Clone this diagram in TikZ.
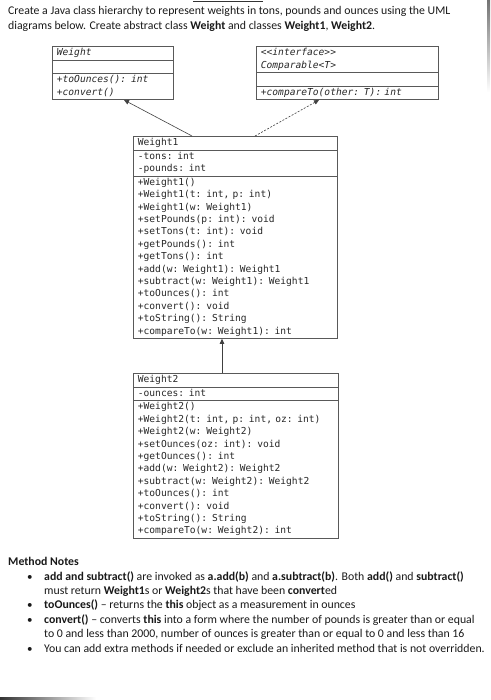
\documentclass[tikz,border=0pt]{standalone}
\usepackage{fontspec}
\setmainfont{Carlito}
\newfontfamily\umlmono{DejaVu Sans Mono}
\usetikzlibrary{positioning,arrows.meta,calc,shapes.multipart}

\begin{document}
\begin{tikzpicture}[x=1pt, y=-1pt,
        cls/.style={rectangle split, rectangle split parts=3, draw=black!65, line width=0.8pt,
            anchor=north west, align=left, inner xsep=4.5pt, inner ysep=0.2pt, text=black!85,
            font=\umlmono\fontsize{9.6}{12.4}\selectfont,
            execute at begin node=\strut, execute at end node=\strut},
        gen/.style={draw=black!75, line width=0.6pt, -{Triangle[length=5pt,width=4.5pt]}},
        real/.style={gen, dash pattern=on 2pt off 1.5pt},
        txt/.style={anchor=base west, inner sep=0pt, text=black!90, font=\fontsize{11.8}{14}\selectfont},
        bul/.style={txt, font=\fontsize{11}{14}\selectfont}
    ]
    \useasboundingbox (0,0) rectangle (490,700);

    %% ---- scan edges ----
    \draw[black!80, line width=0.8pt] (193,1.5) -- (263,1.5);
    \fill[top color=black!55, bottom color=white] (487,0) rectangle (490,92);
    \fill[left color=black!80, right color=white] (0,697.5) rectangle (96,700);

    %% ---- task text ----
    \node[txt] (t1) at (8,15) {Create a Java class hierarchy to represent weights in tons, pounds and ounces using the UML};
    \node[txt] (t2) at (8,30) {diagrams below. Create abstract class \textbf{Weight} and classes \textbf{Weight1}, \textbf{Weight2}.};

    %% ---- abstract class and interface ----
    \node[cls, text width=112pt] (wt) at (52,46)
        {\textit{Weight}
         \nodepart{second}\phantom{W}
         \nodepart{third}\textit{+toOunces(): int}\\\textit{+convert()}};
    \node[cls, text width=173pt] (cmp) at (256,46)
        {\textit{<\kern0pt<interface>\kern0pt>}\\\textit{Comparable<T>}
         \nodepart{second}\phantom{W}
         \nodepart{third}\textit{+compareTo(other: T): int}};

    %% ---- Weight1 ----
    \node[cls, text width=195pt] (w1) at (133,136)
        {Weight1
         \nodepart{second}-tons: int\\-pounds: int
         \nodepart{third}+Weight1()\\
            +Weight1(t: int, p: int)\\
            +Weight1(w: Weight1)\\
            +setPounds(p: int): void\\
            +setTons(t: int): void\\
            +getPounds(): int\\
            +getTons(): int\\
            +add(w: Weight1): Weight1\\
            +subtract(w: Weight1): Weight1\\
            +toOunces(): int\\
            +convert(): void\\
            +toString(): String\\
            +compareTo(w: Weight1): int};
    \draw[gen]  ($(w1.north west)+(59,0)$) -- ($(wt.south west)+(72,0)$);
    \draw[real] ($(w1.north west)+(122,0)$) -- ($(cmp.south west)+(63,0)$);

    %% ---- Weight2 ----
    \node[cls, text width=196pt] (w2) at (133,373)
        {Weight2
         \nodepart{second}-ounces: int
         \nodepart{third}+Weight2()\\
            +Weight2(t: int, p: int, oz: int)\\
            +Weight2(w: Weight2)\\
            +setOunces(oz: int): void\\
            +getOunces(): int\\
            +add(w: Weight2): Weight2\\
            +subtract(w: Weight2): Weight2\\
            +toOunces(): int\\
            +convert(): void\\
            +toString(): String\\
            +compareTo(w: Weight2): int};
    \draw[gen] ($(w2.north west)+(89,0)$) -- ($(w1.south west)+(89,0)$);

    %% ---- Method Notes ----
    \node[txt] (mn) at (8,565) {\textbf{Method Notes}};
    \node[bul] (b1) at (27,580) {•};
    \node[txt] (n1) at (44,580) {\textbf{add and subtract()} are invoked as \textbf{a.add(b)} and \textbf{a.subtract(b)}. Both \textbf{add()} and \textbf{subtract()}};
    \node[txt] (n1b) at (44,594) {must return \textbf{Weight1}s or \textbf{Weight2}s that have been \textbf{convert}ed};
    \node[bul] (b2) at (27,608) {•};
    \node[txt] (n2) at (44,608) {\textbf{toOunces()} – returns the \textbf{this} object as a measurement in ounces};
    \node[bul] (b3) at (27,623) {•};
    \node[txt] (n3) at (44,623) {\textbf{convert()} – converts \textbf{this} into a form where the number of pounds is greater than or equal};
    \node[txt] (n3b) at (44,637) {to 0 and less than 2000, number of ounces is greater than or equal to 0 and less than 16};
    \node[bul] (b4) at (27,652) {•};
    \node[txt] (n4) at (44,652) {You can add extra methods if needed or exclude an inherited method that is not overridden.};

\end{tikzpicture}
\end{document}
